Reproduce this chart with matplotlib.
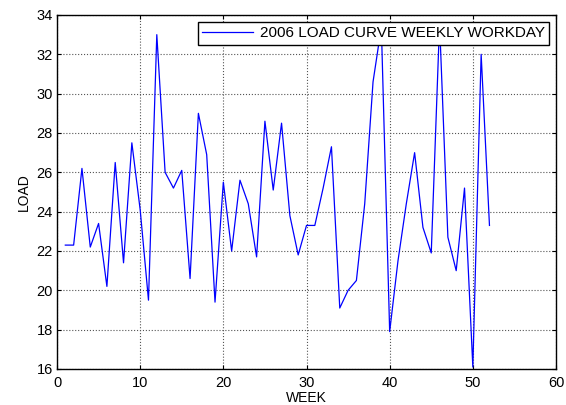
import numpy as np
import matplotlib.pyplot as plt

weeks = list(range(1, 53))
load = [22.3, 22.3, 26.2, 22.2, 23.4, 20.2, 26.5, 21.4, 27.5, 24.1,
        19.5, 33.0, 26.0, 25.2, 26.1, 20.6, 29.0, 26.9, 19.4, 25.5,
        22.0, 25.6, 24.4, 21.7, 28.6, 25.1, 28.5, 23.8, 21.8, 23.3,
        23.3, 25.2, 27.3, 19.1, 20.0, 20.5, 24.4, 30.6, 33.4, 17.9,
        21.5, 24.4, 27.0, 23.2, 21.9, 33.6, 22.7, 21.0, 25.2, 16.1,
        32.0, 23.3]

plt.rcParams['font.family'] = ['Liberation Sans', 'DejaVu Sans']
plt.rcParams['font.size'] = 10

fig = plt.figure(figsize=(5.66, 4.05), dpi=100)
ax = fig.add_axes([57 / 566, 1 - 369 / 405, (556 - 57) / 566, (369 - 15) / 405])
ax.plot(weeks, load, color='blue', linewidth=0.9, label='2006 LOAD CURVE WEEKLY WORKDAY')
ax.set_xlim(0, 60)
ax.set_ylim(16, 34)
ax.set_xticks(range(0, 61, 10))
ax.set_yticks(range(16, 35, 2))
ax.grid(True, color='#555555', linestyle=':', linewidth=0.8)
ax.tick_params(direction='in', top=True, right=True, length=3, pad=3, labelsize=10.5)
ax.tick_params(axis='x', pad=5)
for s in ax.spines.values():
    s.set_linewidth(1.0)
ax.set_xlabel('WEEK', labelpad=1)
ax.set_ylabel('LOAD', labelpad=4)
leg = ax.legend(loc='upper right', fancybox=False, framealpha=1, edgecolor='black',
                borderaxespad=0.45, handlelength=3.3, handletextpad=0.45, borderpad=0.3,
                fontsize=11)
leg.get_frame().set_linewidth(1.0)

fig.savefig('out.png', dpi=100)
